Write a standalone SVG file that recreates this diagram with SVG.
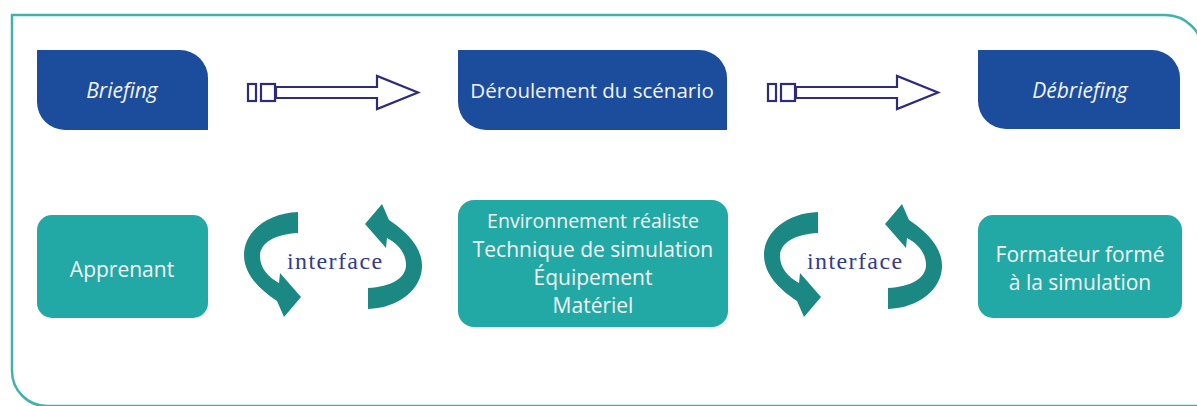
<svg xmlns="http://www.w3.org/2000/svg" width="1197" height="406" viewBox="0 0 1197 406">
<defs>
<style>
.frame{fill:none;stroke:#40b2ac;stroke-width:2.5}
.blue{fill:#1c4c9c}
.teal{fill:#22a9a5}
.lbl{font-family:"Open Sans","DejaVu Sans",sans-serif;fill:#f4f4f4;text-anchor:middle}
.it{font-style:italic}
.flow{fill:#fff;stroke:#2c2b7c;stroke-width:2.2}
.rib{fill:#1c8884}
.ifc{font-family:"Liberation Serif","DejaVu Serif",serif;font-size:24px;fill:#343c8a;letter-spacing:1.4px}
</style>
<path id="loopL" d="M298 212 C267 213 244 232 244 255 C244 274 259 289 277 301 L284 317 L301 297 L280 273 L279 283 C268 277 260 268 260 256 C260 243 275 234 298 233 Z"/>
<g id="arrowShape">
<rect x="248" y="84" width="8" height="17"/>
<rect x="261" y="84" width="14" height="17"/>
<path d="M276 87 H377 V76 L418 92.5 L377 109 V98 H276 Z"/>
</g>
</defs>
<path class="frame" d="M1203 410 V53 A38 38 0 0 0 1165 15 H12 V371 A35 35 0 0 0 47 406 H1203"/>

<g id="briefing">
<path class="blue" d="M37 50 H180 A28 28 0 0 1 208 78 V130 H65 A28 28 0 0 1 37 102 Z"/>
<text class="lbl it" x="122" y="98" font-size="21">Briefing</text>
</g>
<g id="deroulement">
<path class="blue" d="M458 50 H699 A28 28 0 0 1 727 78 V130 H486 A28 28 0 0 1 458 102 Z"/>
<text class="lbl" x="592" y="98" font-size="20.5">Déroulement du scénario</text>
</g>
<g id="debriefing">
<path class="blue" d="M978 50 H1152 A28 28 0 0 1 1180 78 V129 H1006 A28 28 0 0 1 978 101 Z"/>
<text class="lbl it" x="1080" y="98" font-size="21">Débriefing</text>
</g>

<g id="apprenant">
<rect class="teal" x="37" y="215" width="171" height="103" rx="15"/>
<text class="lbl" x="122" y="277" font-size="21">Apprenant</text>
</g>
<g id="environnement">
<rect class="teal" x="458" y="200" width="270" height="127" rx="16"/>
<text class="lbl" x="593" y="228" font-size="19.5">Environnement réaliste</text>
<text class="lbl" x="593" y="257" font-size="21">Technique de simulation</text>
<text class="lbl" x="593" y="285" font-size="21">Équipement</text>
<text class="lbl" x="593" y="313" font-size="21">Matériel</text>
</g>
<g id="formateur">
<rect class="teal" x="978" y="215" width="204" height="103" rx="15"/>
<text class="lbl" x="1080" y="262" font-size="21">Formateur formé</text>
<text class="lbl" x="1080" y="290" font-size="21">à la simulation</text>
</g>

<g id="connectors">
<use href="#arrowShape" class="flow"/>
<use href="#arrowShape" class="flow" transform="translate(520 0)"/>
<g id="interface1">
<use href="#loopL" class="rib"/>
<use href="#loopL" class="rib" transform="rotate(180 333 260.5)"/>
<text class="ifc" x="287" y="269">interface</text>
</g>
<g id="interface2" transform="translate(520 0)">
<use href="#loopL" class="rib"/>
<use href="#loopL" class="rib" transform="rotate(180 333 260.5)"/>
<text class="ifc" x="287" y="269">interface</text>
</g>
</g>
</svg>
